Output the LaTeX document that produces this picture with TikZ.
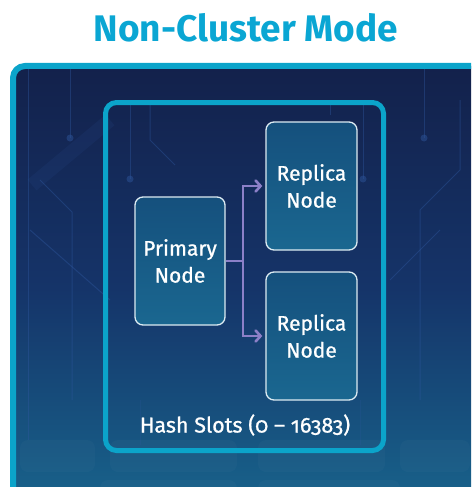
\documentclass[tikz,border=0pt]{standalone}
\usepackage{fontspec}
\setmainfont{Fira Sans}
\newfontfamily\nodefont{Fira Sans}[FakeBold=0.9]
\newfontfamily\oldnum{Fira Sans}[Numbers=OldStyle, FakeBold=0.9]
\usetikzlibrary{arrows.meta}

\definecolor{cyanline}{HTML}{0BA4CA}
\definecolor{titlecol}{HTML}{0AA6D3}
\definecolor{navytop}{HTML}{13214B}
\definecolor{navymid}{HTML}{153469}
\definecolor{tealbot}{HTML}{18648C}
\definecolor{nodetop}{HTML}{15507D}
\definecolor{nodebot}{HTML}{1A6790}
\definecolor{nodeedge}{HTML}{DCEBF2}
\definecolor{linkcol}{HTML}{8C80C8}
\definecolor{circuit}{HTML}{2F58A0}

\tikzset{
  frame/.style={draw=cyanline, rounded corners=12pt},
  servernode/.style={draw=nodeedge, line width=1.3pt, rounded corners=8pt,
    top color=nodetop, bottom color=nodebot,
    minimum width=91pt, minimum height=128pt, inner sep=0pt,
    text=white, align=center, font=\nodefont\fontsize{21}{27}\selectfont},
  link/.style={draw=linkcol, line width=2.6pt},
  linktip/.style={-{Straight Barb[length=5pt,width=11pt,line cap=round]}},
  trace/.style={draw=circuit, line width=1pt, opacity=0.4},
  pad/.style={fill=white, opacity=0.025, rounded corners=8pt}
}

\begin{document}
\begin{tikzpicture}[x=1pt,y=-1pt]
\useasboundingbox (0,0) rectangle (471,487);
\clip (0,0) rectangle (471,487);

% title
\node (title) at (246,28) {\textcolor{titlecol}{\fontsize{37}{40}\selectfont\bfseries Non-Cluster Mode}};

% outer panel with gradient background
\shade[rounded corners=12pt, top color=navytop, bottom color=tealbot, middle color=navymid]
  (13,66) rectangle (490,510);

% faint circuit traces in the background
\draw[trace] (28,69) -- (28,440);
\draw[trace] (70,69) -- (70,138);
\fill[circuit, opacity=0.45] (70,138) circle (3.5pt);
\draw[trace] (424,69) -- (424,138);
\fill[circuit, opacity=0.45] (424,138) circle (3.5pt);
\draw[trace] (460,100) -- (460,170) -- (420,210) -- (420,400);
\draw[trace] (40,180) -- (72,212) -- (72,400);
\draw[trace] (130,105) -- (130,179);
\fill[circuit, opacity=0.45] (130,179) circle (3.5pt);
\draw[trace] (363,105) -- (363,179);
\fill[circuit, opacity=0.45] (363,179) circle (3.5pt);
\draw[trace] (150,105) -- (150,140) -- (175,165);
\draw[trace] (330,105) -- (330,115);
\draw[trace] (30,230) -- (110,300);
\draw[trace] (440,230) -- (390,280);
\draw[trace, opacity=0.2] (140,400) -- (140,445);
\draw[trace, opacity=0.2] (360,400) -- (360,445);
\draw[circuit, opacity=0.12, line width=14pt] (32,185) -- (110,120);

% key-like pads near the bottom
\fill[pad] (110,440) rectangle (237,472);
\fill[pad] (258,440) rectangle (385,472);
\fill[pad] (20,440) rectangle (95,472);
\fill[pad] (400,440) rectangle (470,472);
\fill[pad] (100,480) rectangle (237,500);
\fill[pad] (258,480) rectangle (400,500);

% outer frame
\draw[frame, line width=6pt] (13,66) rectangle (490,510);

% hash slot container
\draw[frame, line width=5pt, rounded corners=11pt] (105.5,102.5) rectangle (383.5,450.5);

% server nodes
\node[servernode, minimum width=90pt] (primary) at (180,261) {Primary\\Node};
\node[servernode] (replicaA) at (311.5,186) {Replica\\Node};
\node[servernode] (replicaB) at (311.5,336) {Replica\\Node};

% replication links
\coordinate (split) at (243,261);
\draw[link] (primary.east) -- (split);
\draw[link, linktip, shorten >=3pt] (split) |- (replicaA.west);
\draw[link, linktip, shorten >=3pt] (split) |- (replicaB.west);

% slot range label
\node[text=white, font=\nodefont\fontsize{21.5}{24}\selectfont] (slots) at (245,425)
  {Hash Slots ({\oldnum 0} – {\oldnum 16383})};
\end{tikzpicture}
\end{document}
